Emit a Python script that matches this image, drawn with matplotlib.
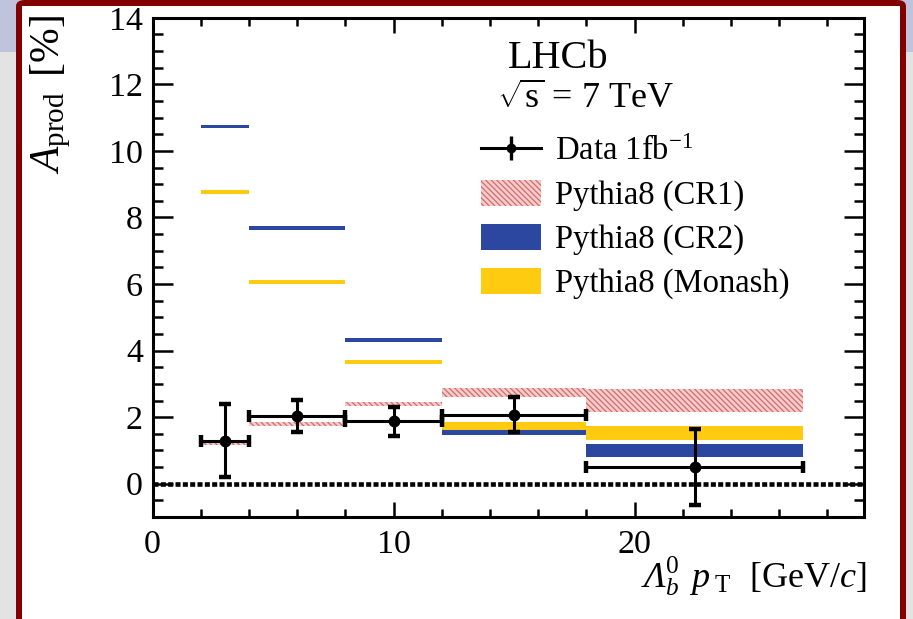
import matplotlib
matplotlib.use("Agg")
import matplotlib.pyplot as plt
from matplotlib.patches import Rectangle, FancyBboxPatch, Patch
from matplotlib.lines import Line2D
from matplotlib.legend_handler import HandlerTuple
from matplotlib.ticker import MultipleLocator
import numpy as np

plt.rcParams['font.family'] = ['Liberation Serif', 'DejaVu Serif']
plt.rcParams['mathtext.fontset'] = 'custom'
# rm -> italic face so that Greek capitals come out italic (ROOT style); sf -> upright
plt.rcParams['mathtext.rm'] = 'Liberation Serif:italic'
plt.rcParams['mathtext.it'] = 'Liberation Serif:italic'
plt.rcParams['mathtext.sf'] = 'Liberation Serif'
plt.rcParams['mathtext.bf'] = 'Liberation Serif:bold'
plt.rcParams['hatch.linewidth'] = 0.9

# ---------------- data ----------------
bin_edges = [2, 4, 8, 12, 18, 27]
data_x = [3.0, 6.0, 10.0, 15.0, 22.5]
data_y = [1.29, 2.04, 1.87, 2.07, 0.50]
data_yerr = [1.10, 0.48, 0.45, 0.53, 1.14]

cr1_center = [1.22, 1.78, 2.40, 2.75, 2.50]
cr1_half = [0.05, 0.06, 0.07, 0.13, 0.34]
cr2_center = [10.73, 7.69, 4.32, 1.54, 1.00]
cr2_half = [0.05, 0.06, 0.06, 0.09, 0.20]
monash_center = [8.77, 6.07, 3.65, 1.73, 1.52]
monash_half = [0.05, 0.06, 0.06, 0.11, 0.20]

labels = ["Data 1fb$^{\\mathregular{-1}}$", "Pythia8 (CR1)", "Pythia8 (CR2)", "Pythia8 (Monash)"]

W, H = 913, 619
fig = plt.figure(figsize=(W / 100, H / 100), dpi=100)
fig.patch.set_facecolor('#e3e3e3')

def fx(px):
    return px / W

def fy(py):
    return 1 - py / H

# slide background + frame
fig.add_artist(Rectangle((0, fy(52)), 1, fy(0) - fy(52), transform=fig.transFigure,
                         facecolor='#bfc3dc', edgecolor='none', zorder=-10))
fig.add_artist(FancyBboxPatch((fx(16), fy(640)), fx(906) - fx(16), fy(0) - fy(640),
                              boxstyle="round,pad=0,rounding_size=0.01",
                              transform=fig.transFigure, facecolor='#820000',
                              edgecolor='none', zorder=-9))
fig.add_artist(Rectangle((fx(22), fy(640)), fx(900) - fx(22), fy(6) - fy(640),
                         transform=fig.transFigure, facecolor='white',
                         edgecolor='none', zorder=-8))

ax = fig.add_axes([fx(152.6), fy(517), fx(863.6) - fx(152.6), fy(17.8) - fy(517)])
ax.set_facecolor('white')

edges = np.array(bin_edges, dtype=float)
lefts = edges[:-1]
widths = np.diff(edges)

def band(center, half, **kw):
    c = np.array(center)
    h = np.array(half)
    ax.bar(lefts, 2 * h, bottom=c - h, width=widths, align='edge', **kw)

band(cr1_center, cr1_half, facecolor='#f3cccc', edgecolor='#d66a6a',
     hatch='\\\\\\\\\\\\', linewidth=0, zorder=2)
band(cr2_center, cr2_half, color='#2b47a0', linewidth=0, zorder=2)
band(monash_center, monash_half, color='#fecb10', linewidth=0, zorder=2)

ax.axhline(0, color='black', lw=3.3, ls=(0, (1.1, 0.5)), zorder=3)

eb = ax.errorbar(data_x, data_y, xerr=widths / 2, yerr=data_yerr, fmt='o',
                 color='black', ms=7.5, lw=2.2, capsize=4, capthick=3.2, zorder=5)

ax.set_xlim(0, 29.5)
ax.set_ylim(-1, 14)
ax.xaxis.set_major_locator(MultipleLocator(10))
ax.xaxis.set_minor_locator(MultipleLocator(2))
ax.yaxis.set_major_locator(MultipleLocator(2))
ax.yaxis.set_minor_locator(MultipleLocator(0.5))
ax.tick_params(axis='both', which='both', direction='in', top=True, right=True,
               labelsize=24.5, width=1.8, colors='black')
ax.tick_params(axis='y', which='major', length=14.5, pad=7)
ax.tick_params(axis='y', which='minor', length=7.2)
ax.tick_params(axis='x', which='major', length=10.8, pad=9)
ax.tick_params(axis='x', which='minor', length=5.8)
for s in ax.spines.values():
    s.set_linewidth(2.2)

ax.set_xlabel(r"$\Lambda_{b}^{\mathsf{0}}\;\,p_{\;\mathsf{T}}\;\;\,$[GeV/$c$]", fontsize=26, ha='right')
ax.xaxis.set_label_coords(1.004, -0.074)
ax.set_ylabel(r"$A_{\mathsf{prod}}\,$ [%]", fontsize=30, ha='right')
ax.yaxis.set_label_coords(-0.112, 1.006)

fig.text(fx(558), fy(58), "LHCb", fontsize=29, ha='center', va='center')
fig.text(fx(497), fy(99), r"$\sqrt{\mathsf{s}}$ = 7 TeV", fontsize=26, ha='left', va='center')

data_handle = (Line2D([], [], color='black', lw=2.2),
               Line2D([], [], color='black', marker='|', ms=17, mew=2.4, ls='none'),
               Line2D([], [], color='black', marker='o', ms=6, ls='none'))
handles = [data_handle,
           Patch(facecolor='#f3cccc', edgecolor='#d66a6a', hatch='\\\\\\\\\\\\', linewidth=0),
           Patch(facecolor='#2b47a0', edgecolor='none'),
           Patch(facecolor='#fecb10', edgecolor='none')]
leg = ax.legend(handles, labels, loc='upper left',
                bbox_to_anchor=(fx(481), fy(136)), bbox_transform=fig.transFigure,
                frameon=False, fontsize=23.5, handlelength=1.85, handleheight=0.85,
                handletextpad=0.42, labelspacing=0.38, borderpad=0, borderaxespad=0,
                handler_map={tuple: HandlerTuple(ndivide=1, pad=0)})

fig.savefig("out.png", dpi=100, facecolor=fig.get_facecolor())
